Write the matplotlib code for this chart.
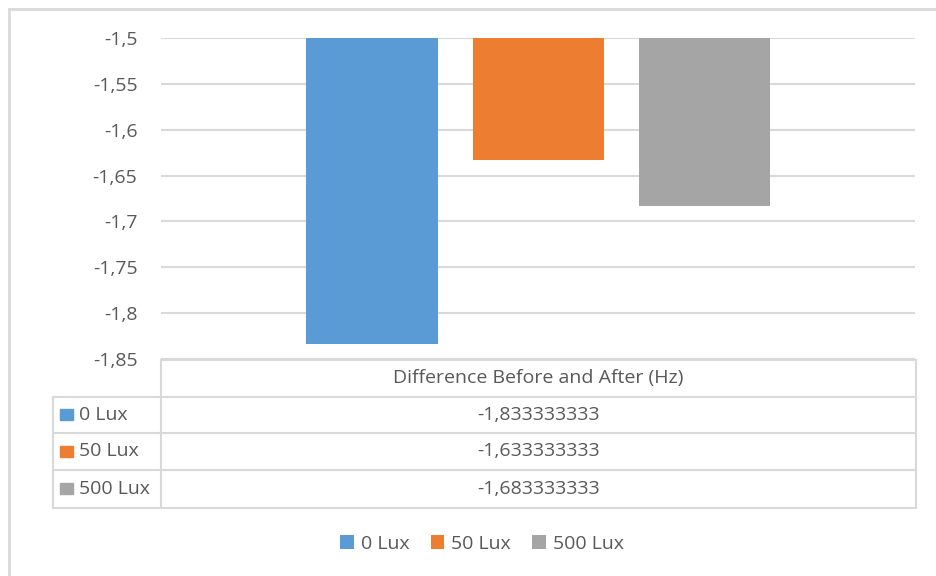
import matplotlib.pyplot as plt
from matplotlib.lines import Line2D
from matplotlib.patches import Rectangle
from matplotlib.ticker import FuncFormatter

series = ['0 Lux', '50 Lux', '500 Lux']
values = [-1.833333333, -1.633333333, -1.683333333]
colors = ['#5b9bd5', '#ed7d31', '#a5a5a5']
category = 'Difference Before and After (Hz)'
y_ticks = [-1.5, -1.55, -1.6, -1.65, -1.7, -1.75, -1.8, -1.85]

W, H = 936, 576
TEXT = '#595959'
GRID = '#d9d9d9'
FS = 14


def fx(px):
    return px / W


def fy(py):
    return 1 - py / H


def comma(v):
    return f"{v:g}".replace('.', ',')


def draw_bars(fig):
    ax = fig.add_axes([fx(161), fy(359), fx(915) - fx(161), fy(38) - fy(359)])
    base = max(y_ticks)
    width = 131 / 754 * 3
    step = 166 / 754 * 3
    for i, (name, val, col) in enumerate(zip(series, values, colors)):
        ax.bar((i - 1) * step, val - base, bottom=base, width=width,
               color=col, label=name, zorder=3)
    ax.set_xlim(-1.5, 1.5)
    ax.set_ylim(min(y_ticks), base)
    ax.set_yticks(y_ticks)
    ax.yaxis.set_major_formatter(FuncFormatter(lambda v, p: comma(v)))
    ax.grid(axis='y', color=GRID, linewidth=1.5, zorder=0)
    ax.tick_params(axis='y', length=0, pad=17, labelsize=FS, labelcolor=TEXT)
    ax.set_xticks([])
    for s in ax.spines.values():
        s.set_visible(False)
    return ax


def draw_table(fig):
    rows = [360, 397, 433, 470, 508]
    left, mid, right = 53, 161, 916
    kw = dict(color=GRID, linewidth=1.5, transform=fig.transFigure)
    fig.add_artist(Line2D([fx(mid), fx(right)], [fy(rows[0])] * 2, **kw))
    for r in rows[1:]:
        fig.add_artist(Line2D([fx(left), fx(right)], [fy(r)] * 2, **kw))
    fig.add_artist(Line2D([fx(left)] * 2, [fy(rows[1]), fy(rows[-1])], **kw))
    fig.add_artist(Line2D([fx(mid)] * 2, [fy(rows[0]), fy(rows[-1])], **kw))
    fig.add_artist(Line2D([fx(right)] * 2, [fy(rows[0]), fy(rows[-1])], **kw))

    cx = (mid + right) / 2
    fig.text(fx(cx), fy((rows[0] + rows[1]) / 2), category, ha='center',
             va='center', fontsize=FS, color=TEXT)
    for i, (name, val, col) in enumerate(zip(series, values, colors)):
        yc = (rows[i + 1] + rows[i + 2]) / 2
        fig.add_artist(Rectangle((fx(60), fy(yc + 5)), fx(13), fy(0) - fy(11),
                                 color=col, transform=fig.transFigure))
        fig.text(fx(79), fy(yc), name, ha='left', va='center',
                 fontsize=FS, color=TEXT)
        fig.text(fx(cx), fy(yc), f"{val:.9f}".replace('.', ','),
                 ha='center', va='center', fontsize=FS, color=TEXT)


def main():
    plt.rcParams['font.family'] = ['Open Sans', 'DejaVu Sans']
    fig = plt.figure(figsize=(W / 100, H / 100), dpi=100)
    fig.add_artist(Rectangle((fx(9), -0.1), 1.2, fy(9) + 0.1, fill=False,
                             edgecolor=GRID, linewidth=2,
                             transform=fig.transFigure))
    ax = draw_bars(fig)
    draw_table(fig)
    handles, labels = ax.get_legend_handles_labels()
    fig.legend(handles, labels, loc='center', bbox_to_anchor=(fx(482), fy(544)),
               ncol=3, frameon=False, fontsize=FS, labelcolor=TEXT,
               handlelength=0.7, handleheight=0.7, handletextpad=0.35,
               columnspacing=1.1)
    fig.savefig('out.png', dpi=100)


if __name__ == "__main__":
    main()
